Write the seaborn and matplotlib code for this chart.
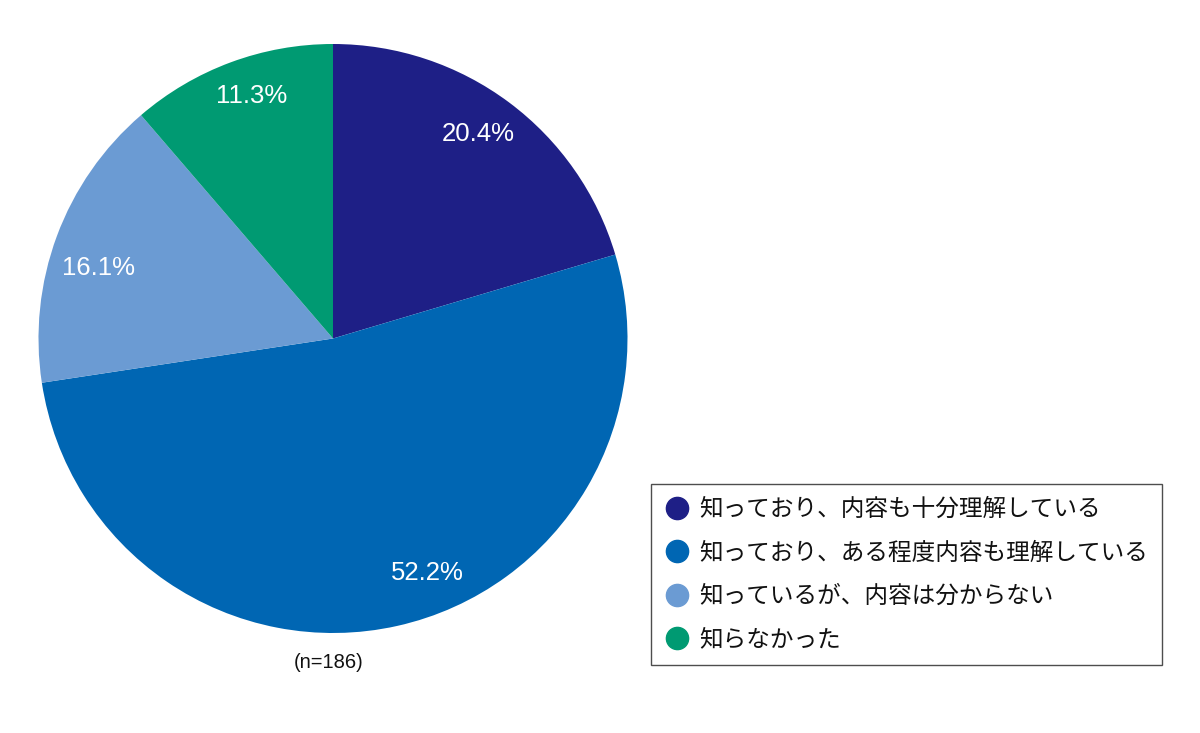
import matplotlib
matplotlib.use("Agg")
import matplotlib.pyplot as plt
import seaborn as sns
from matplotlib.lines import Line2D

sns.set_theme(style="white")
plt.rcParams['font.family'] = ['Noto Sans CJK JP', 'DejaVu Sans']

categories = ["知っており、内容も十分理解している",
              "知っており、ある程度内容も理解している",
              "知っているが、内容は分からない",
              "知らなかった"]
values = [20.4, 52.2, 16.1, 11.3]
colors = ["#1e1f86", "#0066b3", "#6b9bd3", "#009a72"]
note = "(n=186)"

fig = plt.figure(figsize=(12, 7.33), dpi=100)
ax = fig.add_axes([38/1200, 1-633/733, 590/1200, 589/733])
wedges, texts, autotexts = ax.pie(values, colors=colors, startangle=90, counterclock=False,
                                  autopct=lambda p: f"{p:.1f}%", pctdistance=0.85,
                                  wedgeprops=dict(linewidth=0),
                                  textprops=dict(color="white", fontsize=18.5,
                                                 family=['Liberation Sans', 'DejaVu Sans']))
# label placement as in the reference (axes data units, radius = 1)
label_pos = [(0.492, 0.695), (0.322, -0.797), (-0.797, 0.241), (-0.275, 0.824)]
for t, p in zip(autotexts, label_pos):
    t.set_position(p)
ax.set_aspect("equal")
ax.set_xlim(-1, 1)
ax.set_ylim(-1, 1)
ax.axis("off")

fig.text(329/1200, 1-662/733, note, ha="center", va="center", fontsize=14.5,
         family=['Liberation Sans', 'DejaVu Sans'], color="#111111")

handles = [Line2D([0], [0], marker='o', linestyle='', markersize=16,
                  markerfacecolor=c, markeredgecolor=c) for c in colors]
leg = fig.legend(handles, categories, loc="upper left",
                 bbox_to_anchor=(651/1200, 1-484/733), borderaxespad=0,
                 fontsize=17, frameon=True, fancybox=False, edgecolor="#222222",
                 handlelength=1.0, handletextpad=0.45, labelspacing=0.86,
                 borderpad=0.6)
leg.get_frame().set_linewidth(1.0)
for t in leg.get_texts():
    t.set_color("#111111")

fig.savefig("out.png", dpi=100)
